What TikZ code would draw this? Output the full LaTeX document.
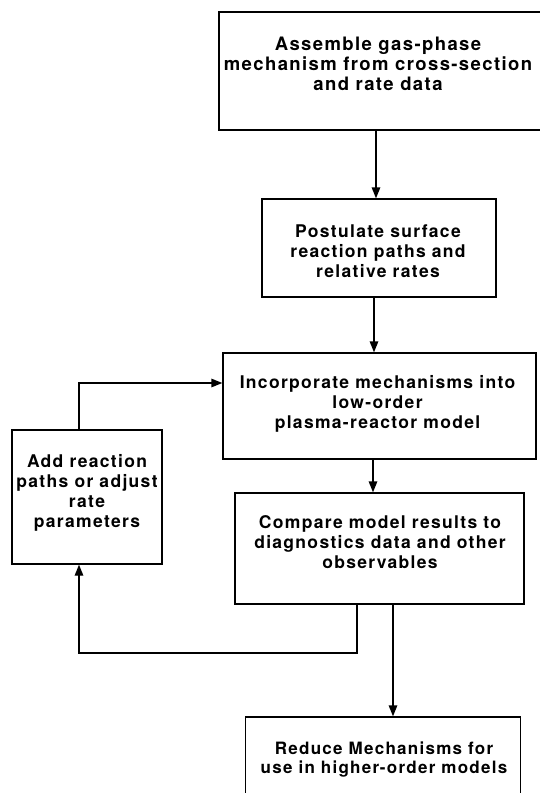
\documentclass[tikz,border=0pt]{standalone}
\usepackage{fontspec}
\setmainfont{TeX Gyre Heros}
\usetikzlibrary{arrows.meta}
\tikzset{
  boxnode/.style={draw=black, line width=1.3pt, rectangle, inner sep=0pt},
  txtnode/.style={align=center, inner sep=0pt,
    font=\fontsize{17.5}{20}\selectfont\bfseries\addfontfeature{LetterSpace=7.5}},
  bigtxt/.style={txtnode, font=\fontsize{18.5}{20}\selectfont\bfseries\addfontfeature{LetterSpace=7.5}},
  smalltxt/.style={txtnode, font=\fontsize{17}{19}\selectfont\bfseries\addfontfeature{LetterSpace=7.5}},
  arr/.style={line width=1.3pt, -{Triangle[length=11pt,width=8.5pt]}},
  ln/.style={line width=1.3pt}
}
\begin{document}
\begin{tikzpicture}[x=1pt,y=-1pt]
\useasboundingbox (0,0) rectangle (539,793);
% boxes
\node[boxnode, minimum width=322pt, minimum height=118pt] (b1) at (380,71) {};
\node[boxnode, minimum width=234pt, minimum height=98pt] (b2) at (379,248) {};
\node[boxnode, minimum width=313pt, minimum height=106pt] (b3) at (379.5,406) {};
\node[boxnode, minimum width=289pt, minimum height=111pt] (b4) at (379.5,548.5) {};
\node[boxnode, minimum width=150pt, minimum height=134pt] (b5) at (87,497) {};
\node[boxnode, minimum width=275pt, minimum height=90pt] (b6) at (383,762) {};
% texts
\node[bigtxt] (t1) at (378,64) {Assemble gas-phase\\mechanism from cross-section\\and rate data};
\node[txtnode] (t2) at (378,251) {Postulate surface\\reaction paths and\\relative rates};
\node[txtnode] (t3) at (377.5,404) {Incorporate mechanisms into\\low-order\\plasma-reactor model};
\node[txtnode] (t4) at (380,542) {Compare model results to\\diagnostics data and other\\observables};
\node[txtnode] (t5) at (87,493) {Add reaction\\paths or adjust\\rate\\parameters};
\node[smalltxt] (t6) at (384,760) {Reduce Mechanisms for\\use in higher-order models};
% helper coordinates
\coordinate (c1) at (376,0);
\coordinate (c2) at (374,0);
\coordinate (c3) at (373,0);
\coordinate (c4) at (393,0);
\coordinate (cf) at (357,0);
\coordinate (cl) at (79,0);
\coordinate (fb) at (0,653);
\coordinate (ft) at (0,383);
% main flow
\draw[arr] (b1.south -| c1) -- (b2.north -| c1);
\draw[arr] (b2.south -| c2) -- (b3.north -| c2);
\draw[arr] (b3.south -| c3) -- (b4.north -| c3);
\draw[arr] (b4.south -| c4) -- (b6.north -| c4);
% feedback loop
\draw[arr] (b4.south -| cf) -- (cf |- fb) -- (cl |- fb) -- (b5.south -| cl);
\draw[arr] (b5.north -| cl) -- (cl |- ft) -- (b3.west |- ft);
\end{tikzpicture}
\end{document}
